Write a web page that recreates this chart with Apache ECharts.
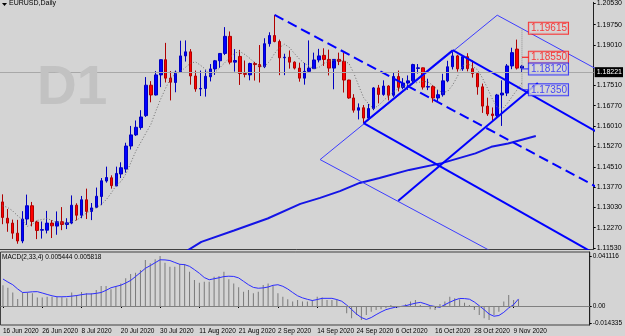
<!DOCTYPE html>
<html>
<head>
<meta charset="utf-8">
<title>EURUSD,Daily</title>
<script src="https://cdn.jsdelivr.net/npm/echarts@6/dist/echarts.min.js"></script>
<style>
  html, body { margin: 0; padding: 0; background: #d4d4d4; }
  #chart { width: 625px; height: 336px; }
</style>
</head>
<body>
<div id="chart"></div>
<script>
// daily bars, 16 Jun .. 10 Nov 2020
var dates = ['16 Jun 2020','17 Jun 2020','18 Jun 2020','19 Jun 2020','22 Jun 2020','23 Jun 2020','24 Jun 2020','25 Jun 2020','26 Jun 2020','29 Jun 2020','30 Jun 2020',
  '1 Jul 2020','2 Jul 2020','3 Jul 2020','6 Jul 2020','7 Jul 2020','8 Jul 2020','9 Jul 2020','10 Jul 2020','13 Jul 2020','14 Jul 2020','15 Jul 2020','16 Jul 2020','17 Jul 2020','20 Jul 2020','21 Jul 2020','22 Jul 2020','23 Jul 2020','24 Jul 2020','27 Jul 2020','28 Jul 2020','29 Jul 2020','30 Jul 2020','31 Jul 2020',
  '3 Aug 2020','4 Aug 2020','5 Aug 2020','6 Aug 2020','7 Aug 2020','10 Aug 2020','11 Aug 2020','12 Aug 2020','13 Aug 2020','14 Aug 2020','17 Aug 2020','18 Aug 2020','19 Aug 2020','20 Aug 2020','21 Aug 2020','24 Aug 2020','25 Aug 2020','26 Aug 2020','27 Aug 2020','28 Aug 2020','31 Aug 2020',
  '1 Sep 2020','2 Sep 2020','3 Sep 2020','4 Sep 2020','7 Sep 2020','8 Sep 2020','9 Sep 2020','10 Sep 2020','11 Sep 2020','14 Sep 2020','15 Sep 2020','16 Sep 2020','17 Sep 2020','18 Sep 2020','21 Sep 2020','22 Sep 2020','23 Sep 2020','24 Sep 2020','25 Sep 2020','28 Sep 2020','29 Sep 2020','30 Sep 2020',
  '1 Oct 2020','2 Oct 2020','5 Oct 2020','6 Oct 2020','7 Oct 2020','8 Oct 2020','9 Oct 2020','12 Oct 2020','13 Oct 2020','14 Oct 2020','15 Oct 2020','16 Oct 2020','19 Oct 2020','20 Oct 2020','21 Oct 2020','22 Oct 2020','23 Oct 2020','26 Oct 2020','27 Oct 2020','28 Oct 2020','29 Oct 2020','30 Oct 2020',
  '2 Nov 2020','3 Nov 2020','4 Nov 2020','5 Nov 2020','6 Nov 2020','9 Nov 2020','10 Nov 2020'];

var opens = [1.1322,1.1262,1.1244,1.1207,1.1178,1.1259,1.1308,1.1248,1.1218,1.1218,
  1.1244,1.1233,1.1249,1.1239,1.1244,1.1310,1.1273,1.1330,1.1287,1.1302,
  1.1342,1.1399,1.1411,1.1381,1.1425,1.1443,1.1528,1.1569,1.1596,1.1640,
  1.1752,1.1716,1.1790,1.1846,1.1778,1.1762,1.1800,1.1860,1.1875,1.1786,
  1.1738,1.1740,1.1783,1.1812,1.1842,1.1869,1.1932,1.1837,1.1858,1.1795,
  1.1790,1.1832,1.1828,1.1820,1.1905,1.1935,1.1913,1.1853,1.1855,1.1837,
  1.1815,1.1778,1.1803,1.1813,1.1845,1.1862,1.1847,1.1815,1.1847,1.1840,
  1.1771,1.1705,1.1660,1.1669,1.1631,1.1666,1.1742,1.1718,1.1749,1.1715,
  1.1784,1.1744,1.1760,1.1768,1.1814,1.1816,1.1745,1.1747,1.1705,1.1717,
  1.1768,1.1820,1.1860,1.1812,1.1857,1.1813,1.1795,1.1746,1.1675,1.1646,
  1.1640,1.1716,1.1723,1.1823,1.1885,1.1815];
var highs = [1.1350,1.1296,1.1257,1.1256,1.1288,1.1349,1.1322,1.1253,1.1250,1.1289,
  1.1255,1.1287,1.1303,1.1262,1.1346,1.1317,1.1344,1.1371,1.1318,1.1375,
  1.1410,1.1452,1.1420,1.1452,1.1468,1.1540,1.1602,1.1622,1.1660,1.1782,
  1.1767,1.1804,1.1847,1.1908,1.1804,1.1806,1.1916,1.1917,1.1885,1.1806,
  1.1806,1.1807,1.1830,1.1845,1.1870,1.1966,1.1950,1.1885,1.1882,1.1843,
  1.1835,1.1838,1.1900,1.1925,1.1947,1.2011,1.1920,1.1868,1.1880,1.1840,
  1.1835,1.1834,1.1917,1.1872,1.1886,1.1888,1.1883,1.1835,1.1872,1.1871,
  1.1772,1.1719,1.1685,1.1679,1.1683,1.1745,1.1753,1.1770,1.1752,1.1797,
  1.1806,1.1778,1.1788,1.1831,1.1830,1.1817,1.1776,1.1752,1.1734,1.1794,
  1.1842,1.1881,1.1864,1.1860,1.1870,1.1843,1.1797,1.1758,1.1706,1.1670,
  1.1720,1.1770,1.1830,1.1890,1.1920,1.1826];
var lows = [1.1240,1.1212,1.1186,1.1168,1.1170,1.1237,1.1232,1.1185,1.1187,1.1206,
  1.1189,1.1201,1.1218,1.1222,1.1240,1.1254,1.1262,1.1259,1.1255,1.1299,
  1.1310,1.1393,1.1371,1.1380,1.1410,1.1430,1.1515,1.1565,1.1588,1.1635,
  1.1689,1.1714,1.1745,1.1762,1.1696,1.1726,1.1797,1.1839,1.1754,1.1728,
  1.1712,1.1710,1.1766,1.1790,1.1816,1.1863,1.1829,1.1802,1.1753,1.1781,
  1.1770,1.1769,1.1762,1.1815,1.1894,1.1910,1.1789,1.1789,1.1813,1.1810,
  1.1765,1.1754,1.1801,1.1812,1.1836,1.1823,1.1788,1.1737,1.1826,1.1725,
  1.1702,1.1651,1.1626,1.1612,1.1623,1.1660,1.1685,1.1713,1.1696,1.1709,
  1.1729,1.1737,1.1735,1.1756,1.1795,1.1736,1.1734,1.1688,1.1694,1.1710,
  1.1763,1.1810,1.1802,1.1805,1.1803,1.1780,1.1717,1.1650,1.1639,1.1622,
  1.1634,1.1602,1.1712,1.1811,1.1810,1.1800];
var closes = [1.1265,1.1244,1.1207,1.1178,1.1259,1.1308,1.1250,1.1217,1.1220,1.1244,
  1.1234,1.1249,1.1239,1.1245,1.1310,1.1273,1.1330,1.1287,1.1300,1.1343,
  1.1400,1.1412,1.1382,1.1427,1.1448,1.1528,1.1569,1.1597,1.1635,1.1752,
  1.1716,1.1790,1.1846,1.1778,1.1763,1.1800,1.1860,1.1875,1.1786,1.1738,
  1.1740,1.1785,1.1812,1.1842,1.1869,1.1932,1.1837,1.1843,1.1795,1.1792,
  1.1832,1.1828,1.1820,1.1905,1.1935,1.1913,1.1853,1.1855,1.1837,1.1815,
  1.1778,1.1803,1.1815,1.1845,1.1860,1.1847,1.1815,1.1847,1.1840,1.1771,
  1.1705,1.1660,1.1669,1.1631,1.1666,1.1742,1.1718,1.1749,1.1715,1.1784,
  1.1744,1.1760,1.1768,1.1828,1.1816,1.1745,1.1747,1.1705,1.1717,1.1768,
  1.1820,1.1860,1.1812,1.1857,1.1813,1.1795,1.1746,1.1675,1.1646,1.1640,
  1.1716,1.1723,1.1823,1.1872,1.1815,1.18221];

// grey dotted moving average
var maLine = [1.1308,1.1302,1.1290,1.1272,1.1257,1.1232,1.1239,1.1254,1.1257,1.1261,
  1.1254,1.1246,1.1245,1.1243,1.1250,1.1255,1.1268,1.1281,1.1292,1.1302,
  1.1313,1.1331,1.1355,1.1384,1.1398,1.1427,1.1469,1.1511,1.1543,1.1576,
  1.1608,1.1657,1.1702,1.1742,1.1779,1.1793,1.1802,1.1818,1.1833,1.1838,
  1.1826,1.1811,1.1789,1.1800,1.1818,1.1836,1.1855,1.1871,1.1876,1.1865,
  1.1851,1.1833,1.1822,1.1822,1.1840,1.1869,1.1891,1.1903,1.1891,1.1869,
  1.1849,1.1833,1.1822,1.1813,1.1818,1.1833,1.1840,1.1844,1.1844,1.1840,
  1.1833,1.1797,1.1750,1.1706,1.1683,1.1666,1.1677,1.1695,1.1712,1.1728,
  1.1739,1.1748,1.1755,1.1759,1.1762,1.1766,1.1764,1.1751,1.1735,1.1724,
  1.1730,1.1753,1.1786,1.1824,1.1831,1.1822,1.1809,1.1779,1.1742,1.1702,
  1.1670,1.1663,1.1684,1.1710,1.1735,1.1760];

// blue long average, [bar index, price]
var longAvg = [[37.2,1.1141],[40.2,1.1175],[46.8,1.1217],[53.6,1.1261],[60.2,1.1315],[64.2,1.1337],
  [68.2,1.1362],[72.2,1.1392],[76.2,1.1410],[82.2,1.1440],[88.8,1.1465],[95.6,1.1501],
  [98.8,1.1525],[102.2,1.1537],[107.8,1.1565]];

// drawn objects, [bar index, price]
var dashTrend = [[55,1.2011],[120,1.1378]];
var thinUp = [[64.2,1.1478],[100,1.2010]];
var thinTopDown = [[100,1.2010],[121,1.1802]];
var thinLowDown = [[64.2,1.1478],[112,1.1011]];
var thickUp = [[73,1.1612],[91,1.1881]];
var thickUpLow = [[80,1.1326],[108.2,1.1760]];
var thickDownHigh = [[91,1.1881],[121,1.1571]];
var thickDownLow = [[73,1.1612],[121,1.1118]];

var redLevels = [1.19615, 1.18550];
var blueLevels = [1.18120, 1.17350];
var lastPrice = 1.18221;
var priceTicks = [1.11530,1.12270,1.13030,1.13770,1.14510,1.15270,1.16010,1.16770,1.17510,1.19010,1.19750,1.20530];

// MACD(2,33,4)
var macdMain = [0.0170,0.0151,0.0110,0.0058,0.0110,0.0110,0.0104,0.0069,0.0069,0.0077,
  0.0077,0.0077,0.0071,0.0063,0.0110,0.0090,0.0115,0.0104,0.0104,0.0132,
  0.0164,0.0164,0.0137,0.0164,0.0186,0.0228,0.0263,0.0274,0.0296,0.0378,
  0.0351,0.0384,0.0411,0.0356,0.0323,0.0323,0.0345,0.0345,0.0282,0.0214,
  0.0192,0.0200,0.0200,0.0241,0.0247,0.0282,0.0219,0.0186,0.0154,0.0118,
  0.0132,0.0104,0.0118,0.0173,0.0186,0.0164,0.0104,0.0077,0.0055,0.0036,
  0.0049,0.0036,0.0036,0.0049,0.0077,0.0069,0.0049,0.0049,0.0049,-0.0005,
  -0.0060,-0.0101,-0.0074,-0.0115,-0.0074,-0.0047,-0.0033,-0.0027,-0.0019,0.0008,
  -0.0005,0.0000,0.0014,0.0036,0.0049,0.0008,-0.0005,-0.0027,-0.0033,0.0016,
  0.0036,0.0077,0.0063,0.0055,0.0027,0.0008,-0.0033,-0.0074,-0.0101,-0.0115,
  -0.0074,-0.0047,0.0036,0.0090,0.0049,0.005444];
var macdSignal = [0.0222,0.0197,0.0175,0.0140,0.0111,0.0113,0.0117,0.0118,0.0107,0.0095,
  0.0084,0.0076,0.0076,0.0077,0.0081,0.0086,0.0093,0.0099,0.0099,0.0104,
  0.0111,0.0129,0.0150,0.0161,0.0171,0.0189,0.0210,0.0242,0.0275,0.0310,
  0.0332,0.0356,0.0380,0.0379,0.0374,0.0358,0.0343,0.0340,0.0326,0.0299,
  0.0269,0.0234,0.0216,0.0224,0.0232,0.0242,0.0245,0.0243,0.0231,0.0203,
  0.0175,0.0153,0.0146,0.0149,0.0156,0.0170,0.0175,0.0162,0.0140,0.0111,
  0.0084,0.0067,0.0055,0.0045,0.0053,0.0063,0.0063,0.0063,0.0053,0.0039,
  0.0008,-0.0029,-0.0066,-0.0095,-0.0111,-0.0095,-0.0071,-0.0049,-0.0030,-0.0019,
  -0.0009,-0.0004,0.0002,0.0013,0.0023,0.0030,0.0018,0.0003,-0.0004,-0.0011,
  0.0011,0.0031,0.0049,0.0062,0.0061,0.0056,0.0033,0.0002,-0.0030,-0.0066,
  -0.0084,-0.0078,-0.0052,-0.0016,0.0011,0.005818];
var macdTicks = [0.041116, 0, -0.014335];

var FONT = "'Liberation Sans', Arial, sans-serif";
var SLOTS = 120;
var cats = dates.slice();
while (cats.length < SLOTS) cats.push('');

var candleData = dates.map(function (d, i) {
  return [opens[i], closes[i], lows[i], highs[i]];
});

function objLine(pts, width, color, type) {
  return {
    type: 'line', xAxisIndex: 1, yAxisIndex: 0, data: pts,
    showSymbol: false, symbol: 'none', silent: true, clip: true,
    lineStyle: { color: color, width: width, type: type || 'solid' },
    z: 4
  };
}

function levelMarks(levels, color) {
  return {
    type: 'scatter', xAxisIndex: 1, yAxisIndex: 0, symbolSize: 0, silent: true, z: 6,
    data: levels.map(function (v) { return [106.4, v]; }),
    label: {
      show: true, position: 'right', distance: 0,
      formatter: function (p) { return p.value[1].toFixed(5); },
      color: color, fontFamily: FONT, fontSize: 10, lineHeight: 10,
      padding: [1, 1, 0, 2], borderColor: color, borderWidth: 1, backgroundColor: '#d4d4d4'
    }
  };
}

var series = [
  {
    type: 'candlestick', xAxisIndex: 0, yAxisIndex: 0, data: candleData, barWidth: 3,
    itemStyle: { color: '#0000ff', color0: '#ff0000', borderColor: '#0000c0', borderColor0: '#b00000', borderWidth: 1 },
    markLine: {
      silent: true, symbol: 'none', animation: false,
      lineStyle: { color: '#a8a8a8', width: 1, type: 'solid' },
      label: { show: true, position: 'end', distance: 1, formatter: lastPrice.toFixed(5),
        color: '#fff', backgroundColor: '#000', fontFamily: FONT, fontSize: 7, padding: [2, 1, 1, 2] },
      data: [{ yAxis: lastPrice }]
    }
  },
  {
    type: 'line', xAxisIndex: 0, yAxisIndex: 0, data: maLine, showSymbol: false, symbol: 'none', silent: true,
    lineStyle: { color: '#6e6e6e', width: 1, type: [1, 2] }, z: 3
  },
  objLine(longAvg, 2, '#1414e6'),
  objLine(dashTrend, 2, '#0000ff', [10, 5]),
  objLine(thinUp, 1, '#3c3cff'),
  objLine(thinTopDown, 1, '#3c3cff'),
  objLine(thinLowDown, 1, '#3c3cff'),
  objLine(thickUp, 2, '#0000ff'),
  objLine(thickUpLow, 2, '#0000ff'),
  objLine(thickDownHigh, 2, '#0000ff'),
  objLine(thickDownLow, 2, '#0000ff'),
  objLine([[105, redLevels[0]], [105, blueLevels[1]]], 1, '#909090', 'dotted'),
  objLine([[105, redLevels[1]], [106.4, redLevels[1]]], 1, '#ff0000'),
  objLine([[105, blueLevels[0]], [106.4, blueLevels[0]]], 1, '#2020ff'),
  objLine([[105, blueLevels[1]], [106.4, blueLevels[1]]], 1, '#2020ff'),
  levelMarks(redLevels, '#ff1010'),
  levelMarks(blueLevels, '#1c1cff'),
  {
    type: 'bar', xAxisIndex: 2, yAxisIndex: 1, data: macdMain, barWidth: 1, silent: true,
    itemStyle: { color: '#7a7a7a' },
    markLine: {
      silent: true, symbol: 'none', animation: false, label: { show: false },
      lineStyle: { color: '#808080', width: 1, type: 'solid' },
      data: [{ yAxis: 0 }]
    }
  },
  {
    type: 'line', xAxisIndex: 2, yAxisIndex: 1, data: macdSignal, showSymbol: false, symbol: 'none', silent: true,
    lineStyle: { color: '#2c2cff', width: 1 }, z: 3
  }
];

var chart = echarts.init(document.getElementById('chart'), null, { renderer: 'canvas' });
chart.setOption({
  animation: false,
  backgroundColor: '#d4d4d4',
  textStyle: { fontFamily: FONT },
  title: [
    { text: 'D1', left: 32, top: 56, textStyle: { color: '#c2c2c2', fontSize: 55, fontWeight: 'bold', fontFamily: FONT } },
    { text: 'EURUSD,Daily', left: 9, top: 0, padding: 0, textStyle: { color: '#000', fontSize: 7, fontWeight: 'normal', fontFamily: FONT } },
    { text: 'MACD(2,33,4) 0.005444 0.005818', left: 2, top: 254, padding: 0, textStyle: { color: '#000', fontSize: 6.5, fontWeight: 'normal', fontFamily: FONT } }
  ],
  graphic: [
    { type: 'polygon', shape: { points: [[2, 3], [7, 3], [4.5, 6]] }, style: { fill: '#000' } }
  ],
  grid: [
    { left: -3.5, right: 28.5, top: -2, height: 251 },
    { left: -3.5, right: 28.5, top: 252, height: 73, show: true, borderColor: '#404040', borderWidth: 1, backgroundColor: 'transparent' }
  ],
  xAxis: [
    { type: 'category', gridIndex: 0, data: cats, boundaryGap: true,
      axisLine: { show: true, lineStyle: { color: '#404040', width: 1 } },
      axisTick: { show: false }, axisLabel: { show: false }, splitLine: { show: false } },
    { type: 'value', gridIndex: 0, min: -0.5, max: SLOTS - 0.5, show: false },
    { type: 'category', gridIndex: 1, data: cats, boundaryGap: true,
      axisLine: { show: false },
      axisTick: { show: true, alignWithLabel: true, length: 2, lineStyle: { color: '#000' },
        interval: function (i) { return i % 8 === 0 && i <= 104; } },
      axisLabel: { show: true, align: 'left', margin: 3, color: '#000', fontSize: 6.5, fontFamily: FONT,
        interval: function (i) { return i % 8 === 0 && i <= 104; } },
      splitLine: { show: false } }
  ],
  yAxis: [
    { type: 'value', gridIndex: 0, position: 'right', min: 1.2050 - 249 * 0.000362, max: 1.2050 + 2 * 0.000362,
      axisLine: { show: true, onZero: false, lineStyle: { color: '#202020', width: 1 } },
      axisTick: { show: true, length: 2, customValues: priceTicks, lineStyle: { color: '#000' } },
      axisLabel: { show: true, customValues: priceTicks, margin: 3, color: '#000', fontSize: 7, fontFamily: FONT,
        formatter: function (v) { return v.toFixed(5); } },
      splitLine: { show: false } },
    { type: 'value', gridIndex: 1, position: 'right', min: -19 / 1216, max: 54 / 1216,
      axisLine: { show: true, onZero: false, lineStyle: { color: '#202020', width: 1 } },
      axisTick: { show: true, length: 2, customValues: macdTicks, lineStyle: { color: '#000' } },
      axisLabel: { show: true, customValues: macdTicks, margin: 3, color: '#000', fontSize: 6.5, fontFamily: FONT,
        formatter: function (v) { return v === 0 ? '0.00' : v.toFixed(6); } },
      splitLine: { show: false } }
  ],
  series: series
});
</script>
</body>
</html>
